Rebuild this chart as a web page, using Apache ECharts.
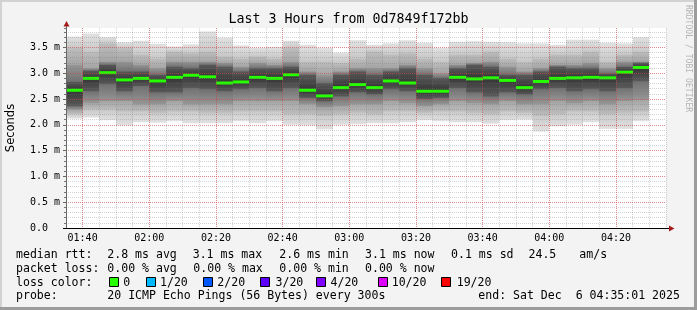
<!DOCTYPE html>
<html><head><meta charset="utf-8">
<script src="https://cdn.jsdelivr.net/npm/echarts@6/dist/echarts.min.js"></script>
<style>html,body{margin:0;padding:0;background:#f3f3f3}#c{width:697px;height:310px}</style>
</head><body><div id="c"></div>
<script>
// 5-minute slot end times
const slotEnd = ["01:40","01:45","01:50","01:55","02:00","02:05","02:10","02:15","02:20","02:25","02:30","02:35",
  "02:40","02:45","02:50","02:55","03:00","03:05","03:10","03:15","03:20","03:25","03:30","03:35",
  "03:40","03:45","03:50","03:55","04:00","04:05","04:10","04:15","04:20","04:25","04:30"];
// median RTT (ms)
const median = [2.67,2.90,3.01,2.87,2.90,2.85,2.92,2.96,2.93,2.81,2.83,2.92,2.90,2.97,2.67,2.56,2.72,2.78,2.72,2.85,2.81,2.65,2.65,2.92,2.89,2.91,2.86,2.72,2.84,2.90,2.91,2.92,2.91,3.02,3.11];
// smoke: outermost (min / max ping)
const pMin = [2.12,2.14,2.09,1.99,2.05,2.04,2.07,2.03,2.03,2.03,2.07,2.03,2.07,2.00,1.99,1.91,2.00,2.01,2.03,2.03,2.05,2.09,2.07,2.05,2.05,2.02,2.09,2.10,1.87,1.97,2.00,2.05,1.92,1.92,2.07];
const pMax = [3.71,3.77,3.70,3.60,3.63,3.57,3.52,3.56,3.81,3.69,3.54,3.49,3.51,3.63,3.55,3.49,3.40,3.64,3.55,3.58,3.64,3.59,3.49,3.61,3.62,3.61,3.60,3.58,3.58,3.55,3.65,3.65,3.59,3.58,3.70];
// second band
const lo2 = [2.21,2.29,2.29,2.26,2.26,2.23,2.26,2.26,2.23,2.23,2.26,2.26,2.26,2.20,2.20,2.17,2.20,2.23,2.20,2.26,2.26,2.23,2.26,2.26,2.23,2.20,2.26,2.23,2.17,2.20,2.26,2.26,2.20,2.23,2.26];
const hi2 = [3.49,3.42,3.58,3.49,3.36,3.29,3.42,3.39,3.42,3.33,3.29,3.33,3.29,3.49,3.23,3.23,3.20,3.29,3.42,3.36,3.39,3.29,3.23,3.36,3.36,3.42,3.29,3.23,3.29,3.36,3.36,3.42,3.23,3.36,3.42];
// third band
const lo3 = [2.29,2.42,2.45,2.45,2.39,2.39,2.45,2.39,2.39,2.39,2.45,2.45,2.45,2.45,2.39,2.33,2.36,2.39,2.39,2.45,2.42,2.36,2.39,2.45,2.42,2.39,2.45,2.39,2.39,2.45,2.42,2.45,2.39,2.45,2.48];
const hi3 = [3.17,3.10,3.23,3.23,3.17,3.10,3.23,3.23,3.23,3.20,3.13,3.20,3.17,3.23,3.04,2.97,3.04,3.10,3.10,3.10,3.17,3.10,3.00,3.17,3.20,3.23,3.13,3.04,3.10,3.17,3.17,3.20,3.10,3.23,3.23];
// dark core
const lo4 = [2.36,2.65,2.78,2.65,2.74,2.62,2.62,2.71,2.68,2.65,2.68,2.71,2.65,2.71,2.52,2.45,2.55,2.62,2.58,2.68,2.65,2.50,2.52,2.71,2.62,2.55,2.62,2.58,2.68,2.71,2.65,2.68,2.65,2.71,2.84];
const hi4 = [2.84,3.05,3.17,3.04,3.04,2.97,3.13,3.10,3.17,3.13,3.04,3.10,3.10,3.13,2.97,2.81,2.97,3.04,2.97,3.04,3.10,2.97,2.91,3.10,3.17,3.13,2.97,2.97,3.04,3.13,3.10,3.10,3.00,3.13,3.20];

const yTop = 3.876;
const toMin = s => { const p = s.split(':'); return (+p[0]) * 60 + (+p[1]); };
const xMin = 95 + 1/60, xMax = 275 + 1/60;
const fmtHM = v => { const t = Math.round(v); const h = Math.floor(t/60), m = t % 60; return String(h).padStart(2,'0') + ':' + String(m).padStart(2,'0'); };

const data = slotEnd.map((s,i) => [toMin(s), pMin[i], pMax[i], lo2[i], hi2[i], lo3[i], hi3[i], lo4[i], hi4[i], median[i]]);
const outerShade = ['#e1e1e1','#bebebe','#979797','#5a5a5a'];
const innerShade = ['#c8c8c8','#a4a4a4','#707070','#333333'];

const mono = 'DejaVu Sans Mono';
const minorGrid = {show:true, showMinLine:false, showMaxLine:false, lineStyle:{color:'rgba(120,120,120,0.33)', type:[1,1], width:1}};
const majorGrid = {show:true, showMinLine:false, showMaxLine:false, lineStyle:{color:'rgba(235,50,50,0.45)', type:[1,1], width:1}};

const legendTexts = [
  [16,255,'median rtt:'],[107.3,255,'2.8 ms avg'],[192.7,255,'3.1 ms max'],[279.3,255,'2.6 ms min'],[365,255,'3.1 ms now'],[451,255,'0.1 ms sd'],[528.5,255,'24.5'],[579.3,255,'am/s'],
  [16,268.5,'packet loss:'],[107.3,268.5,'0.00 % avg'],[193.3,268.5,'0.00 % max'],[279.3,268.5,'0.00 % min'],[365,268.5,'0.00 % now'],
  [16,282.5,'loss color:'],
  [16,296.3,'probe:'],[107.3,296.3,'20 ICMP Echo Pings (56 Bytes) every 300s'],[478.3,296.3,'end: Sat Dec  6 04:35:01 2025']
];
const lossLabels = ['0','1/20','2/20','3/20','4/20','10/20','19/20'];
const lossColors = ['#26ff00','#00b8ff','#0059ff','#5e00ff','#7e00ff','#dd00ff','#ff0000'];
const lossBoxX = [109,146,203,260,316,378,441];
const lossTextX = [123.3,160,217.3,275.5,330.5,391.7,456.7];

const graphics = [];
legendTexts.forEach(t => graphics.push({type:'text', x:t[0], y:t[1], style:{text:t[2], fontFamily:mono, fontSize:11.56, fill:'#000', align:'left', verticalAlign:'middle'}}));
lossLabels.forEach((l,i) => {
  graphics.push({type:'rect', shape:{x:lossBoxX[i]+0.5, y:277.5, width:9, height:9}, style:{fill:lossColors[i], stroke:'#000', lineWidth:1}});
  graphics.push({type:'text', x:lossTextX[i], y:282.5, style:{text:l, fontFamily:mono, fontSize:11.56, fill:'#000', align:'left', verticalAlign:'middle'}});
});
graphics.push({type:'text', x:688, y:5, rotation:-Math.PI/2, style:{text:'RRDTOOL / TOBI OETIKER', fontFamily:mono, fontSize:8.1, fill:'#b4b4b4', align:'left', verticalAlign:'middle'}});
graphics.push({type:'text', x:11, y:128, rotation:Math.PI/2, style:{text:'Seconds', fontFamily:'DejaVu Sans', fontSize:11.5, fill:'#000', align:'center', verticalAlign:'middle'}});
// frame shading
graphics.push({type:'rect', shape:{x:0,y:0,width:697,height:2}, style:{fill:'#d2d2d2'}});
graphics.push({type:'rect', shape:{x:0,y:0,width:2,height:310}, style:{fill:'#d2d2d2'}});
graphics.push({type:'rect', shape:{x:0,y:307,width:697,height:3}, style:{fill:'#9c9c9c'}});
graphics.push({type:'rect', shape:{x:694,y:0,width:3,height:310}, style:{fill:'#9c9c9c'}});
// axis extensions and arrows
graphics.push({type:'line', z:10, shape:{x1:66.5,y1:28,x2:66.5,y2:24}, style:{stroke:'#666', lineWidth:1}});
graphics.push({type:'polygon', z:10, shape:{points:[[63.5,26.5],[69.5,26.5],[66.5,21]]}, style:{fill:'#a31c1c'}});
graphics.push({type:'line', z:10, shape:{x1:63,y1:228.5,x2:66,y2:228.5}, style:{stroke:'#000', lineWidth:1}});
graphics.push({type:'line', z:10, shape:{x1:666,y1:228.5,x2:670,y2:228.5}, style:{stroke:'#000', lineWidth:1}});
graphics.push({type:'polygon', z:10, shape:{points:[[669,225.5],[669,231.5],[674.5,228.5]]}, style:{fill:'#a31c1c'}});

const grad = (top, bottom) => new echarts.graphic.LinearGradient(0, 0, 0, 1, [{offset:0, color:top}, {offset:1, color:bottom}]);

const chart = echarts.init(document.getElementById('c'), null, {renderer:'canvas'});
chart.setOption({
  backgroundColor:'#f3f3f3',
  animation:false,
  title:{text:'Last 3 Hours from 0d7849f172bb', left:'center', top:13, padding:0,
    textStyle:{fontFamily:mono, fontSize:13.3, fontWeight:'normal', color:'#000'}},
  grid:{left:66, top:28, width:600, height:200, show:true, backgroundColor:'#fff', borderWidth:0,
    containLabel:false, outerBoundsMode:'none'},
  xAxis:[
    {type:'value', min:xMin, max:xMax, splitNumber:9, minInterval:20, maxInterval:20, z:4,
     axisLine:{show:true, lineStyle:{color:'#000', width:1}}, axisTick:{show:false},
     axisLabel:{formatter:fmtHM, showMinLabel:false, showMaxLabel:false, margin:5, fontFamily:mono, fontSize:10, color:'#000'},
     splitLine:majorGrid},
    {type:'value', min:xMin, max:xMax, splitNumber:36, minInterval:5, maxInterval:5, position:'bottom', z:3,
     axisLine:{show:false}, axisTick:{show:false}, axisLabel:{show:false}, splitLine:minorGrid}
  ],
  yAxis:[
    {type:'value', min:0, max:yTop, interval:0.5, z:4,
     axisLine:{show:true, lineStyle:{color:'#666', width:1}}, axisTick:{show:true, length:3, lineStyle:{color:'#666'}},
     axisLabel:{formatter:v => v === 0 ? '0.0  ' : v.toFixed(1) + ' m', showMaxLabel:false, margin:6, fontFamily:mono, fontSize:10, color:'#000'},
     splitLine:majorGrid},
    {type:'value', min:0, max:yTop, interval:0.1, position:'left', z:3,
     axisLine:{show:false}, axisTick:{show:true, length:2, lineStyle:{color:'#777'}}, axisLabel:{show:false},
     splitLine:minorGrid}
  ],
  series:[{
    type:'custom', xAxisIndex:0, yAxisIndex:0, z:2, clip:true, data:data,
    encode:{x:0, y:[1,2]},
    renderItem:(params, api) => {
      const t = api.value(0);
      const xa = Math.round(api.coord([t-5, 0])[0]), xb = Math.round(api.coord([t, 0])[0]);
      const w = xb - xa;
      const yOf = v => api.coord([t, v])[1];
      const med = api.value(9);
      const his = [api.value(2), api.value(4), api.value(6), api.value(8), med];
      const los = [api.value(1), api.value(3), api.value(5), api.value(7), med];
      const children = [];
      for (let k = 0; k < 4; k++) {
        const yTopU = yOf(his[k]), yBotU = yOf(his[k+1]);
        if (yBotU > yTopU) children.push({type:'rect', shape:{x:xa, y:yTopU, width:w, height:yBotU - yTopU + 0.4},
          style:{fill:grad(outerShade[k], innerShade[k])}});
        const yTopL = yOf(los[k+1]), yBotL = yOf(los[k]);
        if (yBotL > yTopL) children.push({type:'rect', shape:{x:xa, y:yTopL - 0.4, width:w, height:yBotL - yTopL + 0.4},
          style:{fill:grad(innerShade[k], outerShade[k])}});
      }
      const ym = yOf(med);
      children.push({type:'rect', shape:{x:xa, y:ym-1.5, width:w, height:3}, style:{fill:'#26ff00'}});
      return {type:'group', children};
    }
  }],
  graphic:graphics
});
</script></body></html>
